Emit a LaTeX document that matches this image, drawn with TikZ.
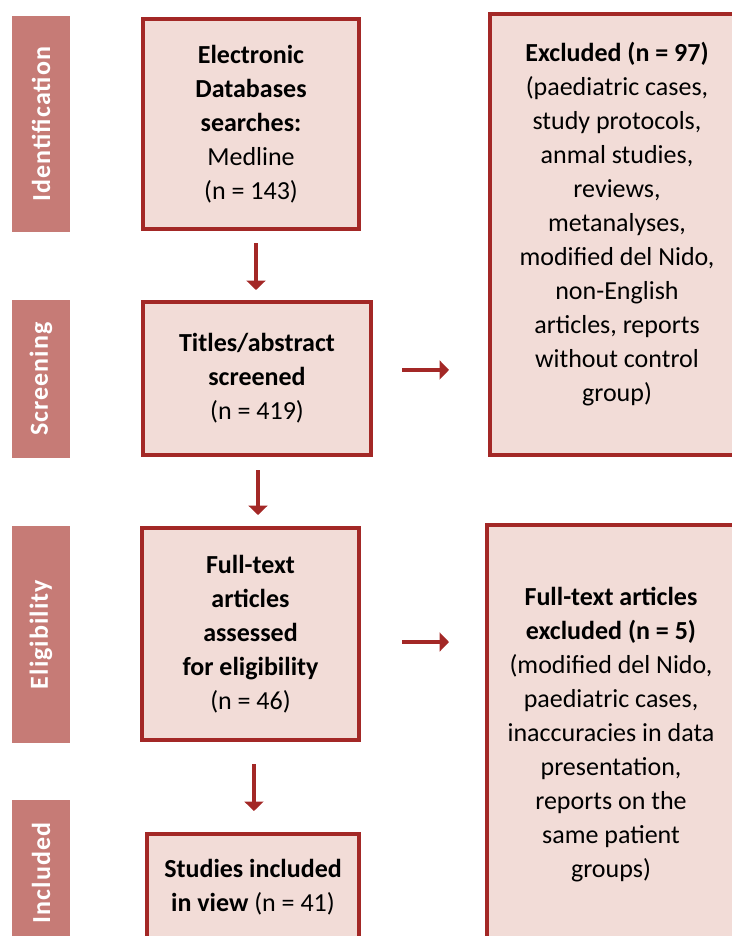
\documentclass[tikz,border=0pt]{standalone}
\usepackage{fontspec}
\setmainfont{Carlito}
\usepackage{tikz}
\usetikzlibrary{arrows.meta}

\definecolor{boxline}{RGB}{163,40,38}
\definecolor{boxfill}{RGB}{242,220,215}
\definecolor{stagefill}{RGB}{198,123,118}

\begin{document}
\begin{tikzpicture}[
        x=0.75pt, y=-0.75pt,
        every node/.style={align=center, inner sep=0pt, font=\fontsize{19.5pt}{25.5pt}\selectfont},
        stage/.style={fill=stagefill, text=white, rotate=90, minimum height=43.5pt,
          font=\fontsize{19.5pt}{22pt}\selectfont\bfseries\addfontfeatures{LetterSpace=4}},
        flowbox/.style={draw=boxline, fill=boxfill, line width=3pt},
        arrow/.style={-{Triangle[length=7pt, width=14pt]}, boxline, line width=3pt}
      ]
        \useasboundingbox (0,0) rectangle (732,936);
        \clip (0,0) rectangle (732,936);

        % Stages on the left
        \node[stage, minimum width=162pt] (identification) at (41,124) {Identification};
        \node[stage, minimum width=118.5pt] (screening) at (41,379) {Screening};
        \node[stage, minimum width=162.75pt] (eligibility) at (41,634.5) {Eligibility};
        \node[stage, minimum width=109.5pt] (included) at (41,873) {Included};

        % Main flow
        \node[flowbox, minimum width=162pt, minimum height=157.5pt] (search) at (251,124)
          {\textbf{Electronic}\\ \textbf{Databases}\\ \textbf{searches:}\\ Medline\\ (n = 143)};
        \node[flowbox, minimum width=171pt, minimum height=114.75pt] (screened) at (257,378.5)
          {\textbf{Titles/abstract}\\ \textbf{screened}\\ (n = 419)};
        \node[flowbox, minimum width=162.75pt, minimum height=159pt] (fulltext) at (250.5,634)
          {\textbf{Full-text}\\ \textbf{articles}\\ \textbf{assessed}\\ \textbf{for eligibility}\\ (n = 46)};
        \node[flowbox, minimum width=159pt, minimum height=79.5pt] (studies) at (253,887)
          {\textbf{Studies included}\\ \textbf{in view} (n = 41)};

        % Exclusions
        \node[flowbox, minimum width=190.5pt, minimum height=330.75pt] (excluded) at (617,234.5) {};
        \node (excludedtext) at (617,224)
          {\textbf{Excluded (n = 97)}\\ (paediatric cases,\\ study protocols,\\ anmal studies,\\ reviews,\\
           metanalyses,\\ modified del Nido,\\ non-English\\ articles, reports\\ without control\\ group)};
        \node[flowbox, minimum width=186pt, minimum height=315pt] (ftexcluded) at (611,735)
          {\textbf{Full-text articles}\\ \textbf{excluded (n = 5)}\\ (modified del Nido,\\ paediatric cases,\\
           inaccuracies in data\\ presentation,\\ reports on the\\ same patient\\ groups)};

        % Arrows down
        \draw[arrow, shorten <=9pt, shorten >=7.5pt] ([xshift=3.75pt]search.south) -- ([xshift=3.75pt]search.south |- screened.north);
        \draw[arrow, shorten <=9.75pt, shorten >=8.25pt] ([xshift=0.75pt]screened.south) -- ([xshift=0.75pt]screened.south |- fulltext.north);
        \draw[arrow, shorten <=16.5pt, shorten >=15.75pt] ([xshift=2.6pt]fulltext.south) -- ([xshift=2.6pt]fulltext.south |- studies.north);

        % Arrows to exclusions
        \draw[arrow, shorten <=21.75pt, shorten >=29.25pt] ([yshift=6.4pt]screened.east) -- ([yshift=6.4pt]screened.east -| excluded.west);
        \draw[arrow, shorten <=30.75pt, shorten >=27pt] ([yshift=-6pt]fulltext.east) -- ([yshift=-6pt]fulltext.east -| ftexcluded.west);

    \end{tikzpicture}
\end{document}
